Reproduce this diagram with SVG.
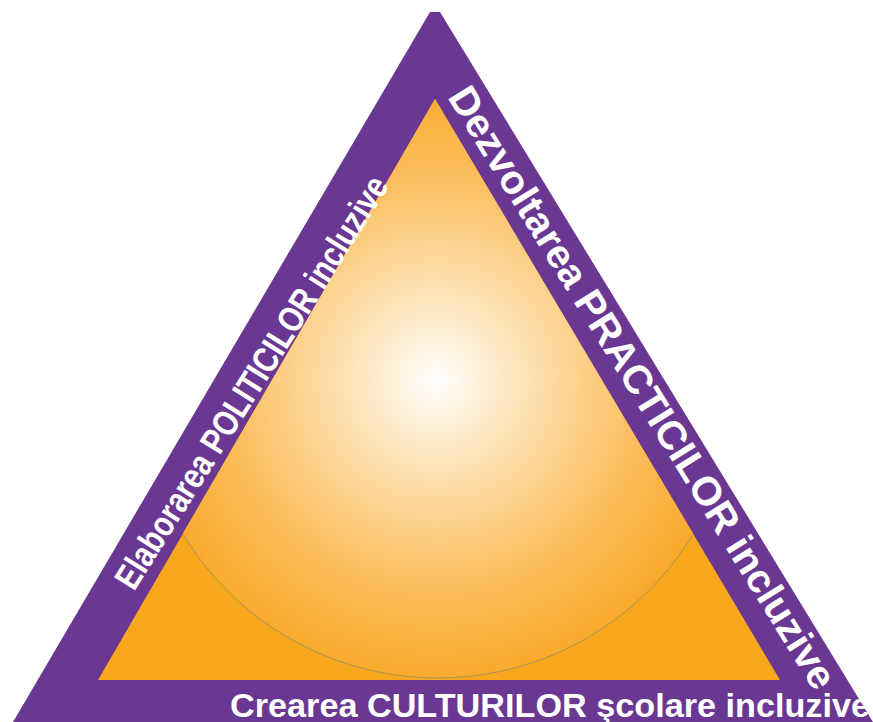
<svg xmlns="http://www.w3.org/2000/svg" width="873" height="722" viewBox="0 0 873 722">
<defs>
<style>
.lbl{font-family:"Liberation Sans",Arial,sans-serif;font-weight:bold;fill:#ffffff}
</style>
<radialGradient id="glow" cx="436" cy="380" r="298" gradientUnits="userSpaceOnUse">
<stop offset="0" stop-color="#ffffff"/>
<stop offset="0.3" stop-color="#fde2b4"/>
<stop offset="0.7" stop-color="#fbbd5c"/>
<stop offset="1" stop-color="#f9aa2c"/>
</radialGradient>
<clipPath id="innerClip">
<polygon points="435,99 98,680 780,680"/>
</clipPath>
</defs>
<rect width="873" height="722" fill="#ffffff"/>
<g id="outer-triangle">
<polygon points="430,12 440,12 873,722 13,722" fill="#6a3893"/>
</g>
<g id="inner-triangle">
<polygon points="435,99 98,680 780,680" fill="#f8a61c"/>
<circle cx="438" cy="380" r="298" fill="url(#glow)" stroke="#a8945a" stroke-width="1" clip-path="url(#innerClip)"/>
</g>
<g id="label-left">
<text class="lbl" font-size="36" textLength="480" lengthAdjust="spacingAndGlyphs" transform="translate(134,592) rotate(-57.8)">Elaborarea POLITICILOR incluzive</text>
</g>
<g id="label-right">
<text class="lbl" font-size="40" textLength="700" lengthAdjust="spacingAndGlyphs" transform="translate(447,97) rotate(58.3)">Dezvoltarea PRACTICILOR incluzive</text>
</g>
<g id="label-bottom">
<text class="lbl" font-size="34" x="230" y="717" textLength="640" lengthAdjust="spacingAndGlyphs">Crearea CULTURILOR şcolare incluzive</text>
</g>
<g id="connectors"/>
</svg>
